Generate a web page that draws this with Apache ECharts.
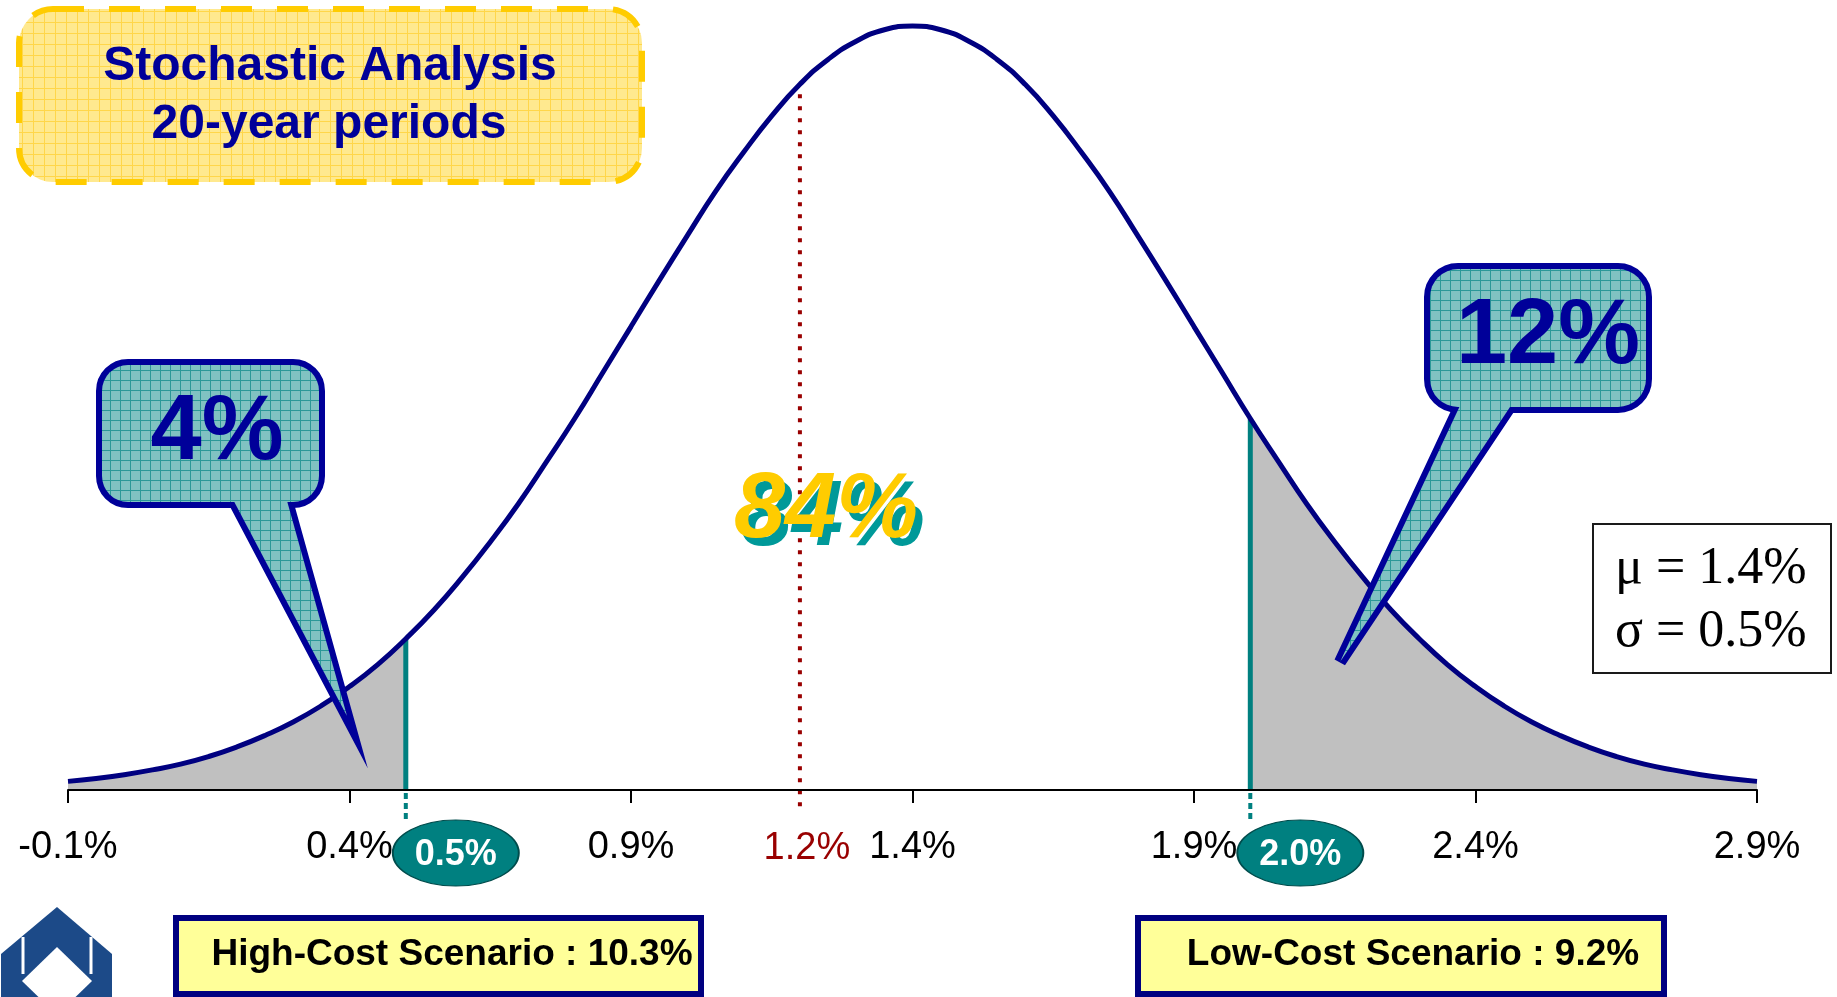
<!DOCTYPE html>
<html>
<head>
<meta charset="utf-8">
<title>Stochastic Analysis – 20-year periods</title>
<script src="https://cdn.jsdelivr.net/npm/echarts@6/dist/echarts.min.js"></script>
<style>
  html, body { margin: 0; padding: 0; background: #ffffff; }
  #chart { width: 1837px; height: 997px; }
</style>
</head>
<body>
<div id="chart"></div>
<script>
// Distribution of 20-year average returns (% per year) and its density
const returnPct = [-0.1, -0.05, 0.0, 0.05, 0.1, 0.15, 0.2, 0.25, 0.3, 0.35, 0.4, 0.45, 0.5, 0.55,
                   0.6, 0.65, 0.7, 0.75, 0.8, 0.85, 0.9, 0.95, 1.0, 1.05, 1.1, 1.15, 1.2, 1.25,
                   1.3, 1.35, 1.4, 1.45, 1.5, 1.55, 1.6, 1.65, 1.7, 1.75, 1.8, 1.85, 1.9, 1.95,
                   2.0, 2.05, 2.1, 2.15, 2.2, 2.25, 2.3, 2.35, 2.4, 2.45, 2.5, 2.55, 2.6, 2.65,
                   2.7, 2.75, 2.8, 2.85, 2.9];
const density   = [0.009, 0.012, 0.016, 0.021, 0.027, 0.035, 0.045, 0.057, 0.071, 0.088, 0.108,
                   0.131, 0.158, 0.188, 0.222, 0.259, 0.299, 0.343, 0.388, 0.436, 0.484, 0.532,
                   0.579, 0.625, 0.666, 0.704, 0.737, 0.763, 0.782, 0.794, 0.798, 0.794, 0.782,
                   0.763, 0.737, 0.704, 0.666, 0.625, 0.579, 0.532, 0.484, 0.436, 0.388, 0.343,
                   0.299, 0.259, 0.222, 0.188, 0.158, 0.131, 0.108, 0.088, 0.071, 0.057, 0.045,
                   0.035, 0.027, 0.021, 0.016, 0.012, 0.009];

// Axis tick values (%)
const tickValues = [-0.1, 0.4, 0.9, 1.4, 1.9, 2.4, 2.9];

// Marked values on the axis: scenario cut-offs and the intermediate assumption
const markerValues = [0.5, 1.2, 2.0];
const markerLabels = ['0.5%', '1.2%', '2.0%'];
const markerKinds  = ['cutoff', 'intermediate', 'cutoff'];

// Share of outcomes: below 0.5%, between, above 2.0%
const shareLabels = ['4%', '84%', '12%'];

// Distribution parameters and scenario boxes
const paramLines    = ['μ = 1.4%', 'σ = 0.5%'];
const titleLines    = ['Stochastic Analysis', '20-year periods'];
const scenarioTexts = ['High-Cost Scenario : 10.3%', 'Low-Cost Scenario : 9.2%'];

const lowCut = markerValues[0];
const highCut = markerValues[2];

const curveData = returnPct.map((x, i) => [x, density[i]]);
const lowTail = curveData.filter(p => p[0] <= lowCut + 1e-9);
const highTail = curveData.filter(p => p[0] >= highCut - 1e-9);
const densityAt = v => density[returnPct.findIndex(x => Math.abs(x - v) < 1e-9)];
const markerData = markerValues.map(v => [v, densityAt(v)]);

const SANS = '"Liberation Sans", Arial, Helvetica, sans-serif';
const SERIF = '"Liberation Serif", "Times New Roman", serif';
const NAVY = '#000099';

function gridPattern(bg, line, size) {
  const c = document.createElement('canvas');
  c.width = size; c.height = size;
  const g = c.getContext('2d');
  g.fillStyle = bg; g.fillRect(0, 0, size, size);
  g.fillStyle = line; g.fillRect(0, 0, size, 1); g.fillRect(0, 0, 1, size);
  return { image: c, repeat: 'repeat' };
}
const tealFill = gridPattern('#80c2c2', '#2b9898', 10);
const yellowFill = gridPattern('#ffe98f', '#ffd64a', 11);

// Speech bubble: outline pass (thick stroke) then fill pass to merge box and tail
function bubble(box, tail, text, textPos) {
  const poly = [[tail[0], box.y + box.h - 12], [tail[1], box.y + box.h - 12], tail[2]];
  return [
    { type: 'rect', z: 100, shape: { x: box.x, y: box.y, width: box.w, height: box.h, r: box.r },
      style: { fill: tealFill, stroke: NAVY, lineWidth: 12 } },
    { type: 'polygon', z: 100, shape: { points: poly },
      style: { fill: tealFill, stroke: NAVY, lineWidth: 12, lineJoin: 'miter' } },
    { type: 'rect', z: 101, shape: { x: box.x, y: box.y, width: box.w, height: box.h, r: box.r },
      style: { fill: tealFill } },
    { type: 'polygon', z: 101, shape: { points: poly }, style: { fill: tealFill } },
    { type: 'text', z: 102, x: textPos[0], y: textPos[1],
      style: { text: text, fill: NAVY, font: 'bold 92px ' + SANS, align: 'center', verticalAlign: 'middle' } }
  ];
}

function renderMarker(params, api) {
  const i = params.dataIndex;
  const x = api.value(0), y = api.value(1);
  const top = api.coord([x, y]);
  const base = api.coord([x, 0]);
  if (markerKinds[i] === 'cutoff') {
    return {
      type: 'group',
      children: [
        { type: 'line', shape: { x1: top[0], y1: top[1], x2: base[0], y2: base[1] },
          style: { stroke: '#008080', lineWidth: 5 } },
        { type: 'line', shape: { x1: base[0], y1: base[1] + 3, x2: base[0], y2: base[1] + 29 },
          style: { stroke: '#008080', lineWidth: 4, lineDash: [6, 4] } },
        { type: 'circle', x: base[0] + 50, y: base[1] + 63, scaleY: 33 / 63,
          shape: { cx: 0, cy: 0, r: 63 },
          style: { fill: '#008080', stroke: '#004c4c', lineWidth: 2 } },
        { type: 'text', x: base[0] + 50, y: base[1] + 65,
          style: { text: markerLabels[i], fill: '#ffffff', font: 'bold 36px ' + SANS,
                   align: 'center', verticalAlign: 'middle' } }
      ]
    };
  }
  return {
    type: 'group',
    children: [
      { type: 'line', shape: { x1: top[0], y1: top[1] + 10, x2: base[0], y2: base[1] + 22 },
        style: { stroke: '#990000', lineWidth: 4, lineDash: [4, 8] } },
      { type: 'text', x: base[0] + 7, y: base[1] + 59,
        style: { text: markerLabels[i], fill: '#990000', font: '38px ' + SANS,
                 align: 'center', verticalAlign: 'middle' } }
    ]
  };
}

const chart = echarts.init(document.getElementById('chart'), null, { renderer: 'canvas' });

const graphics = [
  // title box
  { type: 'rect', z: 100, shape: { x: 19, y: 9, width: 623, height: 173, r: 34 },
    style: { fill: yellowFill, stroke: '#ffcc00', lineWidth: 6, lineDash: [31, 25] } },
  { type: 'text', z: 101, x: 330, y: 67,
    style: { text: titleLines[0], fill: NAVY, font: 'bold 48px ' + SANS, align: 'center', verticalAlign: 'middle' } },
  { type: 'text', z: 101, x: 329, y: 125,
    style: { text: titleLines[1], fill: NAVY, font: 'bold 48px ' + SANS, align: 'center', verticalAlign: 'middle' } },

  // share bubbles
  ...bubble({ x: 102, y: 365, w: 217, h: 137, r: 26 }, [228, 284, [347, 716]], shareLabels[0], [217, 434]),
  ...bubble({ x: 1430, y: 269, w: 216, h: 138, r: 28 }, [1465, 1518, [1340, 662]], shareLabels[2], [1548, 338]),

  // central share with offset shadow
  { type: 'text', z: 100, x: 833, y: 520,
    style: { text: shareLabels[1], fill: '#009999', font: 'italic bold 92px ' + SANS, align: 'center', verticalAlign: 'middle' } },
  { type: 'text', z: 101, x: 826, y: 512,
    style: { text: shareLabels[1], fill: '#ffcc00', font: 'italic bold 92px ' + SANS, align: 'center', verticalAlign: 'middle' } },

  // parameters box
  { type: 'rect', z: 100, shape: { x: 1593, y: 524, width: 238, height: 149 },
    style: { fill: '#ffffff', stroke: '#1a1a1a', lineWidth: 2 } },
  { type: 'text', z: 101, x: 1615, y: 569,
    style: { text: paramLines[0], fill: '#000', font: '52px ' + SERIF, align: 'left', verticalAlign: 'middle' } },
  { type: 'text', z: 101, x: 1615, y: 632,
    style: { text: paramLines[1], fill: '#000', font: '52px ' + SERIF, align: 'left', verticalAlign: 'middle' } },

  // scenario boxes
  { type: 'rect', z: 100, shape: { x: 176, y: 918, width: 525, height: 76 },
    style: { fill: '#ffff99', stroke: '#000080', lineWidth: 6 } },
  { type: 'text', z: 101, x: 452, y: 955,
    style: { text: scenarioTexts[0], fill: '#000', font: 'bold 37px ' + SANS, align: 'center', verticalAlign: 'middle' } },
  { type: 'rect', z: 100, shape: { x: 1138, y: 918, width: 526, height: 76 },
    style: { fill: '#ffff99', stroke: '#000080', lineWidth: 6 } },
  { type: 'text', z: 101, x: 1413, y: 955,
    style: { text: scenarioTexts[1], fill: '#000', font: 'bold 37px ' + SANS, align: 'center', verticalAlign: 'middle' } },

  // logo mark
  { type: 'polygon', z: 100, shape: { points: [[57, 907], [112, 954], [112, 997], [1, 997], [1, 954]] },
    style: { fill: '#1c4a88' } },
  { type: 'polygon', z: 101, shape: { points: [[57, 947], [92, 981], [57, 1015], [22, 981]] },
    style: { fill: '#ffffff' } },
  { type: 'line', z: 101, shape: { x1: 23, y1: 937, x2: 23, y2: 974 }, style: { stroke: '#ffffff', lineWidth: 3 } },
  { type: 'line', z: 101, shape: { x1: 91, y1: 937, x2: 91, y2: 974 }, style: { stroke: '#ffffff', lineWidth: 3 } }
];

chart.setOption({
  animation: false,
  backgroundColor: '#ffffff',
  grid: { left: 68, right: 80, top: 24, bottom: 207, containLabel: false },
  xAxis: {
    type: 'value',
    min: -0.1,
    max: 2.9,
    z: 10,
    splitLine: { show: false },
    axisLine: { onZero: true, lineStyle: { color: '#000000', width: 2 } },
    axisTick: { customValues: tickValues, length: 13, lineStyle: { color: '#000000', width: 2 } },
    axisLabel: {
      customValues: tickValues,
      formatter: v => v.toFixed(1) + '%',
      fontFamily: SANS,
      fontSize: 38,
      color: '#000000',
      margin: 39
    }
  },
  yAxis: { type: 'value', min: 0, max: 0.8, show: false },
  series: [
    { type: 'line', name: 'low tail', data: lowTail, smooth: true, symbol: 'none',
      lineStyle: { width: 0 }, areaStyle: { color: '#c0c0c0', opacity: 1 }, z: 2 },
    { type: 'line', name: 'high tail', data: highTail, smooth: true, symbol: 'none',
      lineStyle: { width: 0 }, areaStyle: { color: '#c0c0c0', opacity: 1 }, z: 2 },
    { type: 'custom', name: 'markers', data: markerData, renderItem: renderMarker, z: 3 },
    { type: 'line', name: 'density', data: curveData, smooth: true, symbol: 'none',
      lineStyle: { color: '#000080', width: 5 }, z: 5 }
  ],
  graphic: { elements: graphics }
});
</script>
</body>
</html>
